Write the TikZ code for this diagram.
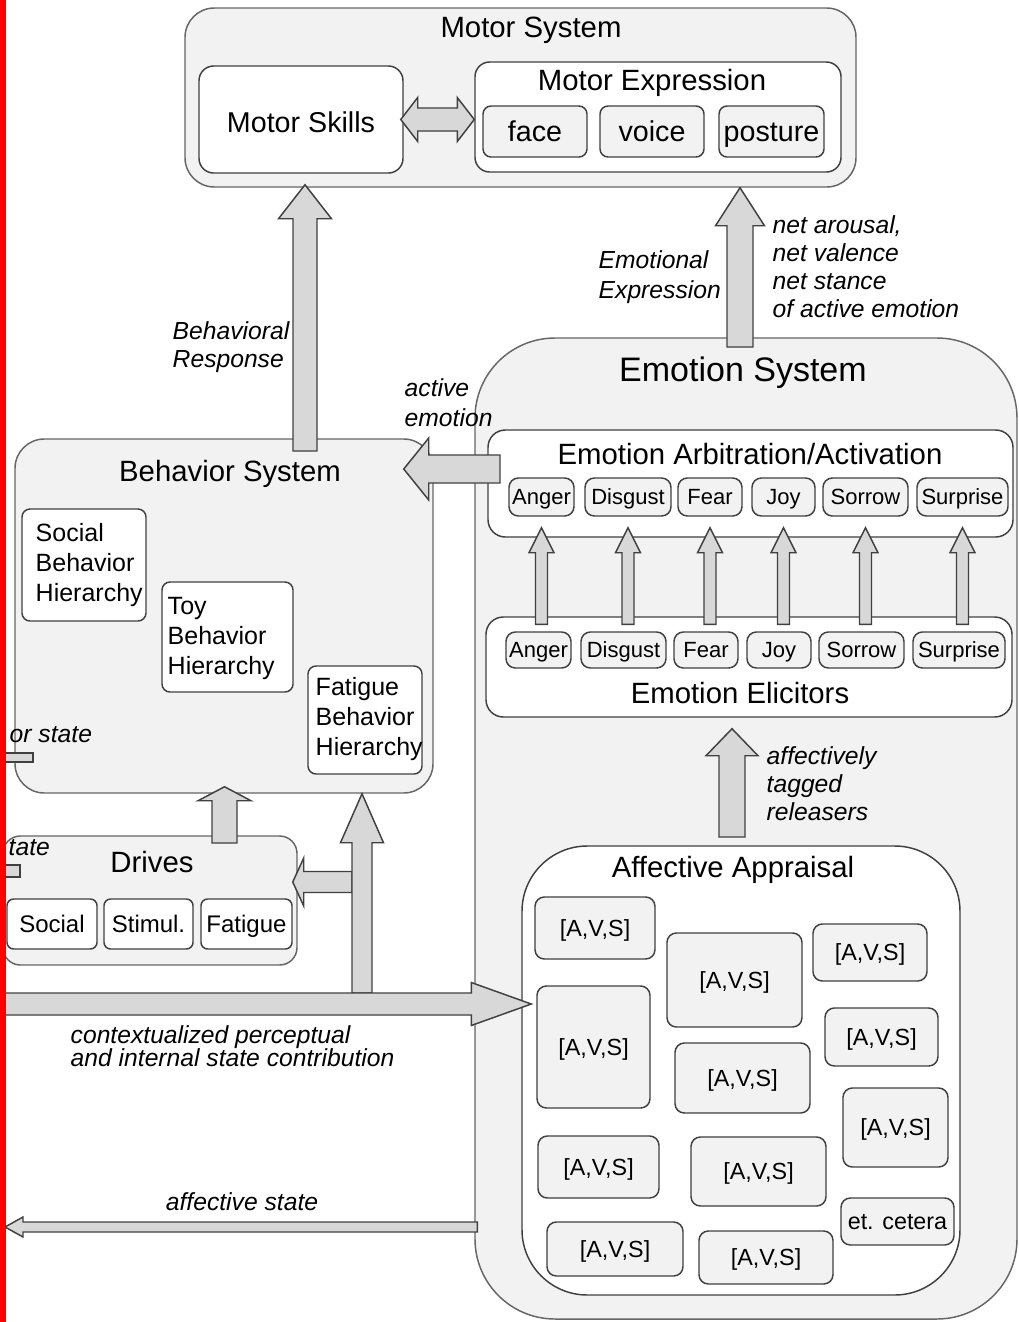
\documentclass[tikz,border=0pt]{standalone}
\usepackage{fontspec}
\setmainfont{Liberation Sans}
\usetikzlibrary{calc,fit}

\definecolor{paneFill}{RGB}{242,242,242}
\definecolor{arrowFill}{RGB}{216,216,216}
\definecolor{edgeGray}{RGB}{64,64,64}

\tikzset{every picture/.style={line width=1.1pt}}
\tikzset{
  sysbox/.style={draw=edgeGray!80, fill=paneFill, rounded corners=#1, inner sep=0pt},
  sysbox/.default=20pt,
  whitebox/.style={draw=edgeGray, fill=white, rounded corners=#1, inner sep=0pt},
  whitebox/.default=10pt,
  graybox/.style={draw=edgeGray, fill=paneFill, rounded corners=#1, inner sep=0pt},
  graybox/.default=6pt,
  barrow/.style={draw=edgeGray, fill=arrowFill, line join=miter},
  even/.style={text height=#1, text depth=0pt},
  systitle/.style={font=\fontsize{22}{26}\selectfont, inner sep=0pt},
  bigtitle/.style={font=\fontsize{25.5}{30}\selectfont, inner sep=0pt},
  boxtext/.style={font=\fontsize{21.5}{26}\selectfont, inner sep=0pt, even=15.5pt},
  hiertext/.style={font=\fontsize{18.75}{22.5}\selectfont, align=left, inner sep=0pt, anchor=west},
  drivetext/.style={font=\fontsize{18}{21}\selectfont, inner sep=0pt, even=13pt},
  emotext/.style={font=\fontsize{16.5}{19}\selectfont, inner sep=0pt, even=11.9pt},
  avstext/.style={font=\fontsize{17.5}{20}\selectfont, inner sep=0pt, even=12.6pt},
  flowlabel/.style={font=\fontsize{18.5}{21}\selectfont\itshape, align=left, inner sep=0pt, anchor=west}
}

% block arrow: start, tip, shaft half width, head half width, head length (px)
\newcommand\blockarrow[5]{%
  \pgfmathsetlengthmacro\baw{#3*0.75pt}%
  \pgfmathsetlengthmacro\baW{#4*0.75pt}%
  \pgfmathsetlengthmacro\baL{#5*0.75pt}%
  \path ($(#2)!\baL!(#1)$) coordinate (ba-h);
  \draw[barrow] ($(#1)!\baw!90:(#2)$) -- ($(ba-h)!\baw!-90:(#1)$) -- ($(ba-h)!\baW!-90:(#1)$) -- (#2)
    -- ($(ba-h)!\baW!90:(#1)$) -- ($(ba-h)!\baw!90:(#1)$) -- ($(#1)!\baw!-90:(#2)$) -- cycle;
}
% same, with a head at both ends
\newcommand\blockdarrow[5]{%
  \pgfmathsetlengthmacro\baw{#3*0.75pt}%
  \pgfmathsetlengthmacro\baW{#4*0.75pt}%
  \pgfmathsetlengthmacro\baL{#5*0.75pt}%
  \path ($(#1)!\baL!(#2)$) coordinate (ba-a) ($(#2)!\baL!(#1)$) coordinate (ba-b);
  \draw[barrow] (#1) -- ($(ba-a)!\baW!90:(#2)$) -- ($(ba-a)!\baw!90:(#2)$) -- ($(ba-b)!\baw!-90:(#1)$)
    -- ($(ba-b)!\baW!-90:(#1)$) -- (#2) -- ($(ba-b)!\baW!90:(#1)$) -- ($(ba-b)!\baw!90:(#1)$)
    -- ($(ba-a)!\baw!-90:(#2)$) -- ($(ba-a)!\baW!-90:(#2)$) -- cycle;
}

\begin{document}
\begin{tikzpicture}[x=0.75pt,y=0.75pt,yscale=-1,xscale=1]
\useasboundingbox (0,0) rectangle (1019,1322);
\fill[white] (0,0) rectangle (1019,1322);
\clip (0,0) rectangle (1019,1322);

%Shape: Motor System
\node[sysbox=22pt, fit={(185,8) (856,187)}] (motor) {};
% Text Node
\node[systitle] (motor-t) at (531,30) {Motor System};
\node[whitebox=11pt, fit={(199,66) (403,173)}] (skills) {};
\node[boxtext] (skills-t) at (301,122) {Motor Skills};
\node[whitebox=11pt, fit={(475,62) (841,172)}] (mexp) {};
% Text Node
\node[systitle] (mexp-t) at (652,83) {Motor Expression};
\foreach \n/\a/\b in {face/483/587, voice/600/704, posture/719/824} {
  \node[graybox=6pt, fit={(\a,106) (\b,157)}] (\n) {};
  \node[boxtext] (\n-t) at (\n) {\n};
}

%Shape: Behavior System
\node[sysbox=22pt, fit={(15,439) (433,793)}] (beh) {};
% Text Node
\node[systitle] (beh-t) at (230,474) {Behavior System};
\node[whitebox=6pt, fit={(22,509) (146,621)}] (socbh) {};
\node[hiertext] (socbh-t) at (35,565) {Social\\Behavior\\Hierarchy};
\node[whitebox=6pt, fit={(162,582) (293,692)}] (toybh) {};
\node[hiertext] (toybh-t) at (167,638) {Toy\\Behavior\\Hierarchy};
\node[whitebox=6pt, fit={(308,666) (422,774)}] (fatbh) {};
\node[hiertext] (fatbh-t) at (315,719) {Fatigue\\Behavior\\Hierarchy};

%Shape: Drives
\node[sysbox=13pt, fit={(3,836) (297,965)}] (drives) {};
% Text Node
\node[systitle] (drives-t) at (152,862) {Drives};
\foreach \n/\t/\a/\b in {dsoc/Social/7/97, dstim/Stimul./104/193, dfat/Fatigue/201/292} {
  \node[whitebox=5pt, fit={(\a,899) (\b,949)}] (\n) {};
  \node[drivetext] (\n-t) at (\n) {\t};
}

%Shape: Emotion System
\node[sysbox=60pt, fit={(475,338) (1017,1319)}] (emo) {};
% Text Node
\node[bigtitle] (emo-t) at (743,373) {Emotion System};
\node[whitebox=13pt, fit={(488,430) (1013,537)}] (arb) {};
% Text Node
\node[systitle] (arb-t) at (750,454) {Emotion Arbitration/Activation};
\node[whitebox=13pt, fit={(486,617) (1012,717)}] (elic) {};
% Text Node
\node[systitle] (elic-t) at (740,693) {Emotion Elicitors};
\foreach \n/\a/\b in {Anger/509/574, Disgust/585/671, Fear/678/742, Joy/752/815, Sorrow/823/908, Surprise/917/1008} {
  \node[graybox=7pt, fit={(\a,478) (\b,516)}] (ea-\n) {};
  \node[emotext] (ea-\n-t) at (ea-\n) {\n};
}
\foreach \n/\a/\b in {Anger/506/571, Disgust/581/666, Fear/674/738, Joy/747/811, Sorrow/819/904, Surprise/913/1005} {
  \node[graybox=7pt, fit={(\a,632) (\b,668)}] (ee-\n) {};
  \node[emotext] (ee-\n-t) at (ee-\n) {\n};
}
\foreach \n in {Anger, Disgust, Fear, Joy, Sorrow, Surprise} {
  \path (ea-\n.south) ++(0,11) coordinate (up-\n-t);
  \path (up-\n-t |- ee-\n.north) ++(0,-7) coordinate (up-\n-s);
  \blockarrow{up-\n-s}{up-\n-t}{6}{12.5}{25}
}

%Shape: Affective Appraisal
\node[whitebox=49pt, fit={(522,846) (960,1295)}] (appr) {};
% Text Node
\node[systitle] (appr-t) at (733,870) {Affective Appraisal};
\foreach \i/\a/\b/\c/\d in {1/535/897/655/959, 2/667/933/802/1027, 3/813/924/927/981,
    4/537/986/650/1108, 5/825/1008/938/1066, 6/675/1043/810/1113, 7/843/1088/948/1167,
    8/538/1136/659/1198, 9/691/1137/826/1206, 10/547/1222/683/1276, 11/699/1231/833/1284} {
  \node[graybox=7pt, fit={(\a,\b) (\c,\d)}] (avs\i) {};
  \node[avstext] (avs\i-t) at (avs\i) {[A,V,S]};
}
\node[graybox=7pt, fit={(841,1198) (954,1245)}] (etc) {};
\node[avstext] (etc-t) at (etc) {et. cetera};

%Block Arrows
\path (skills.east) ++(-3,0) coordinate (dbl-a);
\path (dbl-a -| mexp.west) coordinate (dbl-b);
\blockdarrow{dbl-a}{dbl-b}{11.5}{22}{17}

\coordinate (resp-s) at (305,451);
\path (resp-s |- motor.south) ++(0,-3) coordinate (resp-t);
\blockarrow{resp-s}{resp-t}{12}{26.5}{34}

\coordinate (expr-s) at (740,347);
\path (expr-s |- motor.south) coordinate (expr-t);
\blockarrow{expr-s}{expr-t}{13}{24.5}{38}

\coordinate (act-s) at (500,469);
\path (act-s -| beh.east) ++(-30,0) coordinate (act-t);
\blockarrow{act-s}{act-t}{14}{31}{25}

\coordinate (drv-s) at (224.5,843);
\path (drv-s |- beh.south) ++(0,-7) coordinate (drv-t);
\blockarrow{drv-s}{drv-t}{12.5}{26.5}{14}

\coordinate (fd-s) at (352,882);
\path (fd-s -| drives.east) ++(-5,0) coordinate (fd-t);
\blockarrow{fd-s}{fd-t}{10.5}{24}{11}

\coordinate (fat-s) at (362,993);
\path (fat-s |- beh.south) coordinate (fat-t);
\blockarrow{fat-s}{fat-t}{10}{21.5}{49}

\coordinate (ctx-s) at (-5,1004);
\path (ctx-s -| appr.west) ++(10,0) coordinate (ctx-t);
\blockarrow{ctx-s}{ctx-t}{11}{21.5}{60}

\coordinate (aff-t) at (5,1227);
\path (emo.west |- aff-t) ++(3,0) coordinate (aff-s);
\blockarrow{aff-s}{aff-t}{5}{10}{18}

\coordinate (rel-s) at (732,837);
\path (rel-s |- elic.south) ++(0,11) coordinate (rel-t);
\blockarrow{rel-s}{rel-t}{13}{26}{27}

%Stubs cut by the left edge
\draw[barrow] (-5,753) rectangle (33,762);
\draw[barrow] (-5,865) rectangle (20,877);

% Text Node
\node[flowlabel] (resp-l) at (172,347) {Behavioral\\Response};
% Text Node
\node[flowlabel, font=\fontsize{18.5}{22.5}\selectfont\itshape] (act-l) at (404,403) {active\\emotion};
% Text Node
\node[flowlabel, font=\fontsize{18.5}{22.5}\selectfont\itshape] (expr-l) at (598,277) {Emotional\\Expression};
% Text Node
\node[flowlabel] (net-l) at (772,266.5) {net arousal,\\net valence\\net stance\\of active emotion};
% Text Node
\node[flowlabel] (rel-l) at (766,784) {affectively\\tagged\\releasers};
% Text Node
\node[flowlabel, font=\fontsize{18.5}{17.25}\selectfont\itshape] (ctx-l) at (70,1046.5) {contextualized perceptual\\and internal state contribution};
% Text Node
\node[flowlabel, anchor=center] (aff-l) at (242,1202) {affective state};
% Text Node
\node[flowlabel] (bst-l) at (9,735) {or state};
% Text Node
\node[flowlabel] (dst-l) at (8,848) {tate};

%Left margin bar
\fill[red] (0,0) rectangle (6,1322);
\end{tikzpicture}
\end{document}
